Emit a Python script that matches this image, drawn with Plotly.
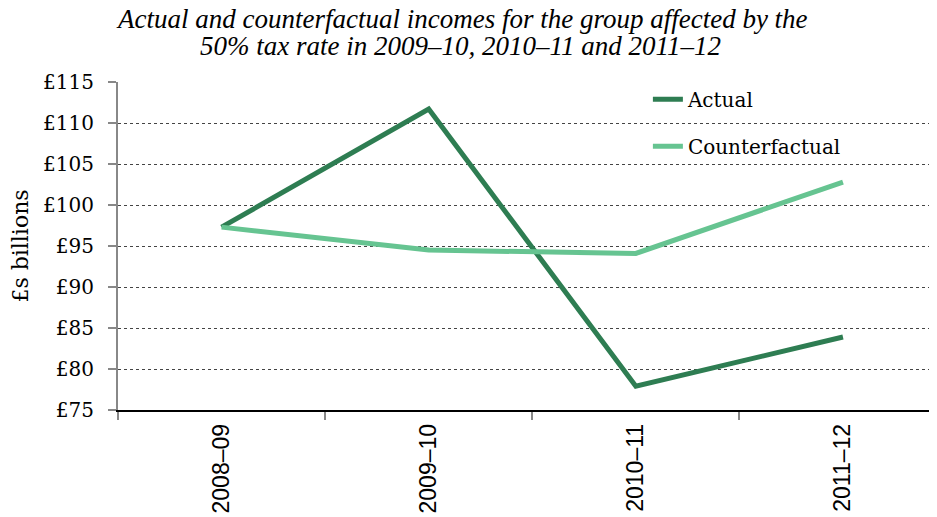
import plotly.graph_objects as go

years = ["2008–09", "2009–10", "2010–11", "2011–12"]
actual = [97.3, 111.7, 77.9, 83.9]
counterfactual = [97.3, 94.5, 94.1, 102.8]
y_ticks = [75, 80, 85, 90, 95, 100, 105, 110, 115]
y_tick_labels = ["£" + str(v) for v in y_ticks]
title_lines = ["Actual and counterfactual incomes for the group affected by the",
               "50% tax rate in 2009–10, 2010–11 and 2011–12"]

serif = "DejaVu Serif"

fig = go.Figure()
fig.add_trace(go.Scatter(x=years, y=actual, mode="lines", name="Actual",
                         legendgroup="a",
                         line=dict(color="#2E7D52", width=5)))
fig.add_trace(go.Scatter(x=years, y=counterfactual, mode="lines", name="Counterfactual",
                         legendgroup="c",
                         line=dict(color="#66C491", width=5)))

# title as two annotations for tight line spacing
for i, (txt, cx, cy) in enumerate(zip(title_lines, [454, 452], [11, 38])):
    fig.add_annotation(
        text="<i>" + txt + "</i>", showarrow=False,
        xref="paper", yref="paper",
        x=(cx - 110) / 819, y=(402 - cy) / 328,
        xanchor="center", yanchor="middle",
        font=dict(family="Liberation Serif", size=27, color="black"),
    )

fig.update_layout(
    width=937, height=517,
    margin=dict(l=110, r=8, t=74, b=115),
    paper_bgcolor="white", plot_bgcolor="white",
    legend=dict(x=0.647, y=1.007, xanchor="left", yanchor="top",
                bgcolor="rgba(255,255,255,0)", tracegroupgap=18,
                font=dict(family=serif, size=20, color="black")),
    showlegend=True,
)

fig.update_xaxes(
    type="category", range=[-0.5, 3.454],
    tickangle=-90, tickfont=dict(family="Liberation Sans", size=23, color="black"),
    ticklabelstandoff=3,
    showline=True, linecolor="black", linewidth=1.5,
    ticks="outside", tickson="boundaries", ticklen=8, tickcolor="#888", tickwidth=1.5,
    showgrid=False, zeroline=False,
)
fig.update_yaxes(
    range=[75, 115], tickvals=y_ticks, ticktext=y_tick_labels,
    tickfont=dict(family=serif, size=20, color="black"),
    ticklabelstandoff=10,
    title=dict(text="£s billions", font=dict(family=serif, size=22, color="black"), standoff=8),
    showline=True, linecolor="#888", linewidth=2,
    ticks="outside", ticklen=8, tickcolor="#888", tickwidth=1.5,
    showgrid=True, gridcolor="#444", griddash="dot", gridwidth=1,
    zeroline=False,
)

fig.write_html("out.html")
